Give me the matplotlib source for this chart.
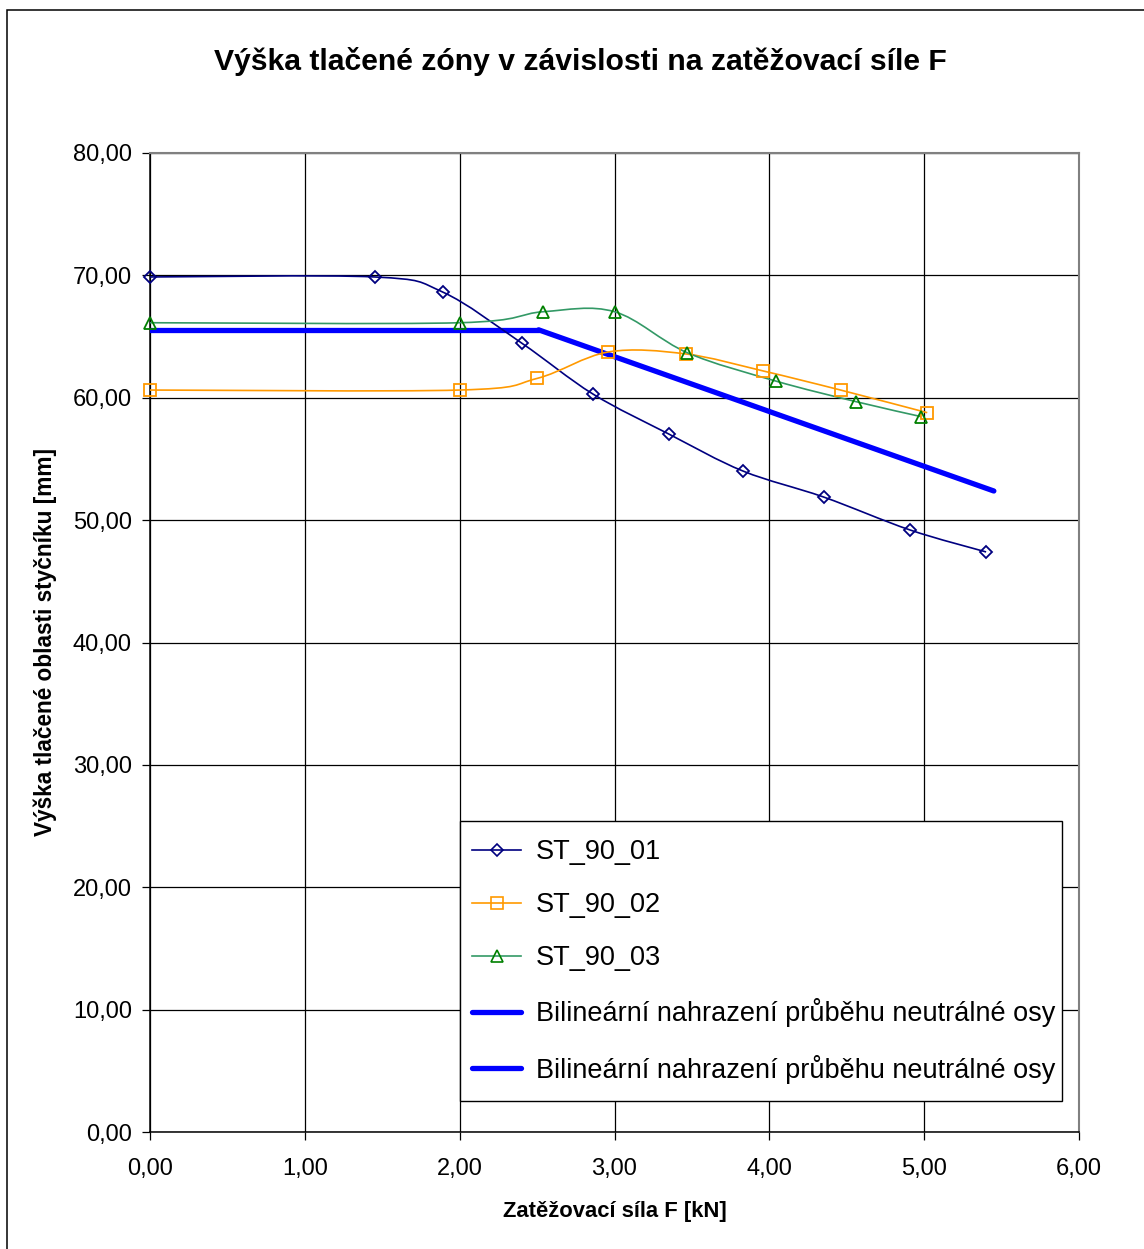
import numpy as np
import matplotlib
matplotlib.use("Agg")
import matplotlib.pyplot as plt
from matplotlib.path import Path
from matplotlib.patches import PathPatch, Rectangle
from matplotlib.lines import Line2D
from matplotlib.ticker import FuncFormatter, MultipleLocator

plt.rcParams['font.family'] = ['Liberation Sans', 'DejaVu Sans']

# --- data -------------------------------------------------------------
st01_x = [0.00, 1.45, 1.89, 2.40, 2.86, 3.35, 3.83, 4.35, 4.91, 5.40]
st01_y = [69.87, 69.87, 68.64, 64.47, 60.31, 57.04, 54.01, 51.89, 49.19, 47.40]

st02_x = [0.00, 2.00, 2.50, 2.96, 3.46, 3.96, 4.46, 5.02]
st02_y = [60.63, 60.63, 61.58, 63.74, 63.58, 62.19, 60.63, 58.78]

st03_x = [0.00, 2.00, 2.54, 3.00, 3.47, 4.04, 4.56, 4.98]
st03_y = [66.13, 66.13, 67.03, 67.03, 63.68, 61.37, 59.68, 58.46]

bil1_x = [0.00, 2.51]
bil1_y = [65.55, 65.55]
bil2_x = [2.51, 5.45]
bil2_y = [65.55, 52.38]

labels = ["ST_90_01", "ST_90_02", "ST_90_03",
          "Bilineární nahrazení průběhu neutrálné osy",
          "Bilineární nahrazení průběhu neutrálné osy"]

title = "Výška tlačené zóny v závislosti na zatěžovací síle F"
xlabel = "Zatěžovací síla F [kN]"
ylabel = "Výška tlačené oblasti styčníku [mm]"


def smooth_path(x, y):
    """Cubic Bezier path through the points (Catmull-Rom style smoothing)."""
    pts = np.column_stack([x, y]).astype(float)
    n = len(pts)
    verts = [pts[0]]
    codes = [Path.MOVETO]
    for i in range(n - 1):
        p0 = pts[i - 1] if i > 0 else pts[i]
        p1 = pts[i]
        p2 = pts[i + 1]
        p3 = pts[i + 2] if i + 2 < n else pts[i + 1]
        c1 = p1 + (p2 - p0) / 6.0
        c2 = p2 - (p3 - p1) / 6.0
        verts += [c1, c2, p2]
        codes += [Path.CURVE4] * 3
    return Path(verts, codes)


W, H = 1144, 1249
fig = plt.figure(figsize=(W / 100, H / 100), dpi=100)
fig.patch.set_facecolor("white")

# outer chart frame
fig.patches.append(Rectangle((7 / W, -0.05), 1.2, 1 - 10 / H + 0.05,
                             transform=fig.transFigure, fill=False,
                             edgecolor="black", linewidth=1.1))

L, R, B, T = 150 / W, 1079 / W, 1 - 1132 / H, 1 - 153 / H
ax = fig.add_axes([L, B, R - L, T - B])
ax.set_xlim(0, 6)
ax.set_ylim(0, 80)
ax.xaxis.set_major_locator(MultipleLocator(1))
ax.yaxis.set_major_locator(MultipleLocator(10))
fmt = FuncFormatter(lambda v, p: f"{v:.2f}".replace(".", ","))
ax.xaxis.set_major_formatter(fmt)
ax.yaxis.set_major_formatter(fmt)
ax.grid(True, color="black", linewidth=0.9)
ax.set_axisbelow(True)
ax.tick_params(direction="out", length=6, width=0.9, labelsize=17,
               colors="black", pad=7)
ax.tick_params(axis="x", pad=13)
for s in ("left", "bottom"):
    ax.spines[s].set_color("black")
    ax.spines[s].set_linewidth(1.1)
for s in ("top", "right"):
    ax.spines[s].set_color("#808080")
    ax.spines[s].set_linewidth(1.5)

navy, orange, green_l, green_m, blue = "#000080", "#FF9900", "#339966", "#008000", "#0000FF"

# bilinear replacement
ax.plot(bil1_x, bil1_y, color=blue, linewidth=3.8, solid_capstyle="round", zorder=3)
ax.plot(bil2_x, bil2_y, color=blue, linewidth=3.8, solid_capstyle="round", zorder=3)

# measured series, smoothed lines with hollow markers
series = [
    (st01_x, st01_y, navy, navy, "D", 6.5),
    (st02_x, st02_y, orange, orange, "s", 8.3),
    (st03_x, st03_y, green_l, green_m, "^", 8.3),
]
for x, y, lc, mc, mk, ms in series:
    ax.add_patch(PathPatch(smooth_path(x, y), fill=False, edgecolor=lc,
                           linewidth=1.2, zorder=4))
    ax.plot(x, y, linestyle="none", marker=mk, markersize=ms,
            markerfacecolor="none", markeredgecolor=mc,
            markeredgewidth=1.3, zorder=5, clip_on=False)

handles = [
    Line2D([], [], color=navy, linewidth=1.2, marker="D", markersize=6.0,
           markerfacecolor="none", markeredgecolor=navy, markeredgewidth=1.2),
    Line2D([], [], color=orange, linewidth=1.2, marker="s", markersize=8.0,
           markerfacecolor="none", markeredgecolor=orange, markeredgewidth=1.2),
    Line2D([], [], color=green_l, linewidth=1.2, marker="^", markersize=8.0,
           markerfacecolor="none", markeredgecolor=green_m, markeredgewidth=1.2),
    Line2D([], [], color=blue, linewidth=3.8, solid_capstyle="round"),
    Line2D([], [], color=blue, linewidth=3.8, solid_capstyle="round"),
]

# legend box
lx0, lx1, ly0, ly1 = 460, 1062, 821, 1101
box = Rectangle((lx0 / W, 1 - ly1 / H), (lx1 - lx0) / W, (ly1 - ly0) / H,
                transform=fig.transFigure, facecolor="white",
                edgecolor="black", linewidth=1.0, zorder=9, clip_on=False)
ax.add_patch(box)
leg = ax.legend(handles, labels, loc="upper left",
                bbox_to_anchor=(lx0 / W, 1 - (ly0 + 6) / H),
                bbox_transform=fig.transFigure,
                fontsize=19.5, frameon=False, borderpad=0.45,
                labelspacing=1.0, handlelength=1.8, handletextpad=0.55,
                borderaxespad=0)
leg.set_zorder(10)

fig.text(580 / W, 1 - 62 / H, title,
         ha="center", va="center", fontsize=21.7, fontweight="bold")
fig.text(615 / W, 1 - 1212 / H, xlabel, ha="center", va="center",
         fontsize=15.8, fontweight="bold")
fig.text(45 / W, 1 - 642 / H, ylabel, ha="center", va="center",
         rotation=90, fontsize=16.3, fontweight="bold")

fig.savefig("out.png", dpi=100)
